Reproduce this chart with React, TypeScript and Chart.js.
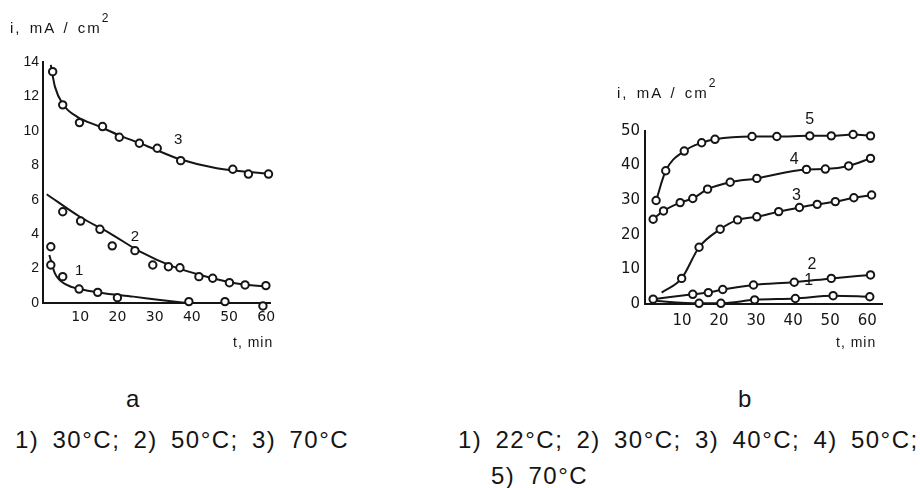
import React, { useEffect, useRef } from 'react';
import { Chart, registerables } from 'chart.js';

Chart.register(...registerables);

// ---------- Panel a (i, mA/cm² vs t, min) ----------
const aXTicks = [10, 20, 30, 40, 50, 60];
const aYTicks = [0, 2, 4, 6, 8, 10, 12, 14];

// curve 3 (70°C)
const aPts3T = [2.6, 5.3, 9.8, 16.0, 20.5, 25.9, 30.7, 37.0, 51.0, 55.2, 60.6];
const aPts3I = [13.44, 11.51, 10.48, 10.25, 9.63, 9.28, 8.99, 8.27, 7.77, 7.49, 7.49];
const aFit3T = [2.1, 3.2, 5.5, 9.1, 15.3, 20.7, 27.9, 36.8, 46.7, 61];
const aFit3I = [13.83, 12.57, 11.5, 10.83, 10.24, 9.72, 9.12, 8.35, 7.83, 7.5];
// curve 2 (50°C)
const aPts2T = [5.3, 10.1, 15.3, 18.6, 24.7, 29.5, 33.7, 36.8, 41.9, 45.6, 50.1, 54.3, 59.9];
const aPts2I = [5.3, 4.76, 4.28, 3.32, 3.04, 2.21, 2.11, 2.05, 1.53, 1.44, 1.18, 1.05, 1.01];
const aFit2T = [1.0, 9.9, 18.0, 26.1, 35.0, 44.0, 53.0, 61];
const aFit2I = [6.32, 5.01, 4.05, 2.98, 2.11, 1.53, 1.1, 0.95];
// curve 1 (30°C)
const aPts1T = [2.1, 2.1, 5.3, 9.7, 14.7, 20.0, 39.2, 48.9, 59.1];
const aPts1I = [3.27, 2.21, 1.53, 0.81, 0.62, 0.31, 0.08, 0.08, -0.17];
const aFit1T = [1.7, 3.2, 6.4, 9.9, 15.3, 24.3, 31.5, 38.6];
const aFit1I = [2.79, 1.72, 1.05, 0.81, 0.6, 0.37, 0.17, 0];

const aLabelText = ['1', '2', '3'];
const aLabelT = [9.7, 24.7, 36.3];
const aLabelI = [1.86, 3.83, 9.47];

// ---------- Panel b ----------
const bXTicks = [10, 20, 30, 40, 50, 60];
const bYTicks = [0, 10, 20, 30, 40, 50];

// curve 5 (70°C)
const bPts5T = [3.0, 5.6, 10.6, 15.3, 18.9, 28.9, 35.6, 44.5, 50.3, 56.2, 60.9];
const bPts5I = [29.9, 38.5, 44.2, 46.6, 47.6, 48.4, 48.4, 48.6, 48.6, 49.0, 48.6];
// curve 4 (50°C)
const bPts4T = [2.2, 5.0, 9.5, 12.9, 16.9, 23.0, 30.2, 43.6, 48.7, 55.0, 60.9];
const bPts4I = [24.5, 26.9, 29.3, 30.5, 33.2, 35.2, 36.3, 38.9, 39.0, 39.9, 42.1];
// curve 3 (40°C)
const bPts3T = [9.9, 14.6, 20.3, 25.0, 30.2, 36.1, 41.7, 46.5, 51.4, 56.4, 61.2];
const bPts3I = [7.4, 16.4, 21.6, 24.3, 25.2, 26.7, 27.9, 28.8, 29.6, 30.7, 31.5];
const bFit3T = [4.5, 9.9, 14.6, 20.3, 25.0, 30.2, 36.1, 41.7, 46.5, 51.4, 56.4, 61.2];
const bFit3I = [3.3, 7.4, 16.4, 21.6, 24.3, 25.2, 26.7, 27.9, 28.8, 29.6, 30.7, 31.5];
// curve 2 (30°C)
const bPts2T = [2.2, 12.9, 17.1, 21.0, 29.3, 40.3, 50.3, 60.9];
const bPts2I = [1.4, 2.8, 3.3, 4.2, 5.5, 6.3, 7.4, 8.4];
// curve 1 (22°C)
const bPts1T = [14.6, 20.5, 29.6, 40.6, 50.8, 60.7];
const bPts1I = [0.2, 0.2, 1.2, 1.6, 2.4, 2.1];
const bFit1T = [1.4, 14.6, 20.5, 29.6, 40.6, 50.8, 60.7];
const bFit1I = [1.0, 0.2, 0.2, 1.2, 1.6, 2.4, 2.1];

const bLabelText = ['1', '2', '3', '4', '5'];
const bLabelT = [44.2, 45.1, 40.9, 40.3, 44.5];
const bLabelI = [6.7, 11.3, 31.2, 41.8, 53.4];

const INK = '#151515';

const pairs = (t: number[], v: number[]) => t.map((x, k) => ({ x, y: v[k] }));

const lineDs = (t: number[], v: number[]) => ({
  data: pairs(t, v),
  showLine: true,
  borderColor: INK,
  borderWidth: 2,
  pointRadius: 0,
  cubicInterpolationMode: 'monotone',
  fill: false,
  clip: false,
  order: 1,
});

const pointDs = (t: number[], v: number[]) => ({
  data: pairs(t, v),
  showLine: false,
  pointRadius: 3.7,
  pointBackgroundColor: '#ffffff',
  pointBorderColor: INK,
  pointBorderWidth: 2,
  clip: false,
  order: 0,
});

type PanelProps = {
  left: number;
  top: number;
  w: number;
  h: number;
  padding: { left: number; right: number; top: number; bottom: number };
  yWidth: number;
  xHeight: number;
  xMax: number;
  yMax: number;
  xTicks: number[];
  yTicks: number[];
  datasets: any[];
  labelText: string[];
  labelT: number[];
  labelI: number[];
  xFont: any;
  yFont: any;
  labelFont: string;
  xPad: number;
  yPad: number;
};

function Panel(p: PanelProps) {
  const ref = useRef<HTMLCanvasElement | null>(null);
  useEffect(() => {
    if (!ref.current) return;
    const curveLabels = {
      id: 'curveLabels',
      afterDatasetsDraw(chart: any) {
        const { ctx, scales } = chart;
        ctx.save();
        ctx.fillStyle = INK;
        ctx.font = p.labelFont;
        ctx.textAlign = 'center';
        ctx.textBaseline = 'middle';
        p.labelText.forEach((s, k) => {
          ctx.fillText(s, scales.x.getPixelForValue(p.labelT[k]), scales.y.getPixelForValue(p.labelI[k]));
        });
        ctx.restore();
      },
    };
    const chart = new Chart(ref.current, {
      type: 'scatter',
      data: { datasets: p.datasets },
      options: {
        animation: false,
        responsive: false,
        maintainAspectRatio: false,
        layout: { padding: p.padding },
        plugins: { legend: { display: false }, tooltip: { enabled: false } },
        scales: {
          x: {
            type: 'linear',
            min: 0,
            max: p.xMax,
            grid: { display: false, drawTicks: false },
            border: { display: true, color: INK, width: 2 },
            ticks: { font: p.xFont, color: INK, padding: p.xPad, maxRotation: 0, autoSkip: false },
            afterBuildTicks: (s: any) => {
              s.ticks = p.xTicks.map((value) => ({ value }));
            },
            afterFit: (s: any) => {
              s.height = p.xHeight;
            },
          },
          y: {
            type: 'linear',
            min: 0,
            max: p.yMax,
            grid: { display: false, drawTicks: false },
            border: { display: true, color: INK, width: 2 },
            ticks: { font: p.yFont, color: INK, padding: p.yPad, autoSkip: false },
            afterBuildTicks: (s: any) => {
              s.ticks = p.yTicks.map((value) => ({ value }));
            },
            afterFit: (s: any) => {
              s.width = p.yWidth;
            },
          },
        },
      } as any,
      plugins: [curveLabels],
    });
    return () => chart.destroy();
  }, []);
  return (
    <canvas
      ref={ref}
      width={p.w}
      height={p.h}
      style={{ position: 'absolute', left: p.left, top: p.top, width: p.w, height: p.h }}
    />
  );
}

const textBase: React.CSSProperties = {
  position: 'absolute',
  whiteSpace: 'nowrap',
  color: INK,
  fontFamily: '"Liberation Sans", Arial, sans-serif',
  lineHeight: 1,
};

export default function App() {
  const aDatasets = [
    lineDs(aFit3T, aFit3I),
    pointDs(aPts3T, aPts3I),
    lineDs(aFit2T, aFit2I),
    pointDs(aPts2T, aPts2I),
    lineDs(aFit1T, aFit1I),
    pointDs(aPts1T, aPts1I),
  ];
  const bDatasets = [
    lineDs(bPts5T, bPts5I),
    pointDs(bPts5T, bPts5I),
    lineDs(bPts4T, bPts4I),
    pointDs(bPts4T, bPts4I),
    lineDs(bFit3T, bFit3I),
    pointDs(bPts3T, bPts3I),
    lineDs(bPts2T, bPts2I),
    pointDs(bPts2T, bPts2I),
    lineDs(bFit1T, bFit1I),
    pointDs(bPts1T, bPts1I),
  ];
  const caption: React.CSSProperties = {
    ...textBase,
    fontSize: 24,
    letterSpacing: '1.5px',
    wordSpacing: '5px',
    lineHeight: '40px',
  };
  const axisTitle: React.CSSProperties = {
    ...textBase,
    fontSize: 15,
    letterSpacing: '2px',
    wordSpacing: '2px',
  };
  return (
    <div
      style={{
        position: 'absolute',
        left: 0,
        top: 0,
        width: 920,
        height: 488,
        background: '#ffffff',
        overflow: 'hidden',
      }}
    >
      <Panel
        left={0}
        top={0}
        w={300}
        h={350}
        padding={{ left: 0, right: 30, top: 62, bottom: 0 }}
        yWidth={43}
        xHeight={47}
        xMax={61}
        yMax={14}
        xTicks={aXTicks}
        yTicks={aYTicks}
        datasets={aDatasets}
        labelText={aLabelText}
        labelT={aLabelT}
        labelI={aLabelI}
        xFont={{ family: '"DejaVu Sans", sans-serif', size: 14 }}
        yFont={{ family: '"Liberation Sans", Arial, sans-serif', size: 14 }}
        labelFont='15px "Liberation Sans", Arial, sans-serif'
        xPad={6}
        yPad={4}
      />
      <Panel
        left={590}
        top={70}
        w={310}
        h={280}
        padding={{ left: 0, right: 18, top: 61, bottom: 0 }}
        yWidth={55}
        xHeight={46}
        xMax={64}
        yMax={50}
        xTicks={bXTicks}
        yTicks={bYTicks}
        datasets={bDatasets}
        labelText={bLabelText}
        labelT={bLabelT}
        labelI={bLabelI}
        xFont={{ family: '"DejaVu Sans", sans-serif', size: 15 }}
        yFont={{ family: '"DejaVu Sans", sans-serif', size: 15 }}
        labelFont='16px "Liberation Sans", Arial, sans-serif'
        xPad={8}
        yPad={5}
      />

      <div style={{ ...axisTitle, left: 10, top: 20 }}>
        i, mA / cm<sup style={{ fontSize: 12, verticalAlign: 'top', position: 'relative', top: -8 }}>2</sup>
      </div>
      <div style={{ ...axisTitle, left: 617, top: 85 }}>
        i, mA / cm<sup style={{ fontSize: 12, verticalAlign: 'top', position: 'relative', top: -8 }}>2</sup>
      </div>
      <div style={{ ...textBase, fontSize: 14, letterSpacing: '1px', left: 233, top: 335 }}>t, min</div>
      <div style={{ ...textBase, fontSize: 14, letterSpacing: '1px', left: 836, top: 335 }}>t, min</div>

      <div style={{ ...textBase, fontSize: 24, left: 126, top: 387 }}>a</div>
      <div style={{ ...textBase, fontSize: 24, left: 738, top: 387 }}>b</div>

      <div style={{ ...caption, left: 15, top: 420 }}>1) 30°C; 2) 50°C; 3) 70°C</div>
      <div style={{ ...caption, left: 458, top: 420 }}>1) 22°C; 2) 30°C; 3) 40°C; 4) 50°C;</div>
      <div style={{ ...caption, left: 491, top: 456 }}>5) 70°C</div>
    </div>
  );
}
